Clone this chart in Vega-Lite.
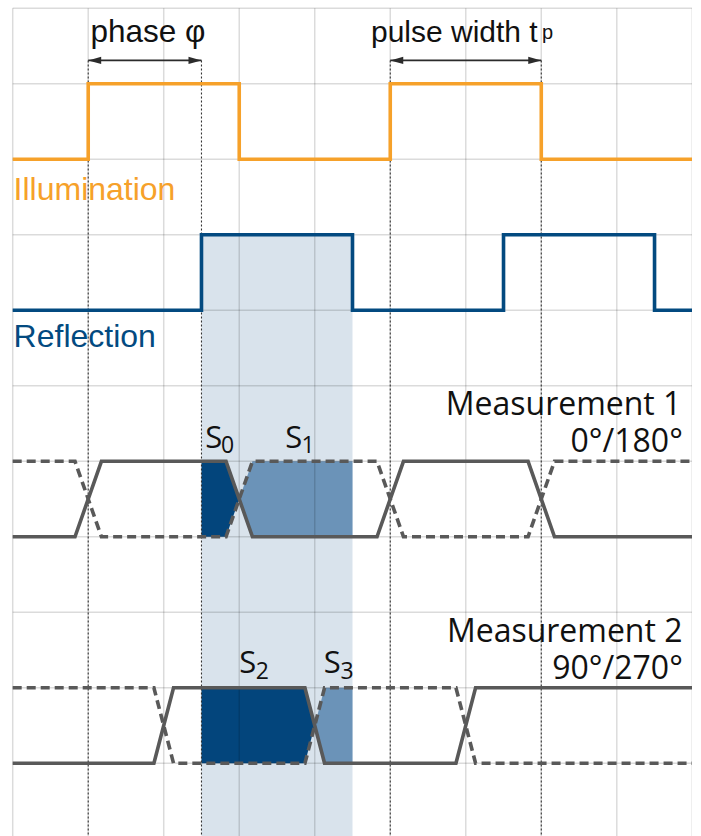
{
  "$schema": "https://vega.github.io/schema/vega-lite/v6.json",
  "width": 679.6,
  "height": 830.5,
  "autosize": {"type": "none"},
  "padding": {"left": 12.7, "top": 8.3, "right": 0, "bottom": 0},
  "background": "white",
  "config": {"view": {"stroke": null}, "axis": {"disable": true}, "legend": {"disable": true}},
  "datasets": {
    "shade": [{"x": 2.5, "x2": 4.5, "y": 3, "y2": 11}],
    "fills": [
      {"r": "S0", "tone": "dark", "x": 2.5, "y": 6, "y2": 7},
      {"r": "S0", "tone": "dark", "x": 2.825, "y": 6, "y2": 7},
      {"r": "S0", "tone": "dark", "x": 3.0, "y": 6.5, "y2": 6.5},
      {"r": "S1", "tone": "mid", "x": 3.0, "y": 6.5, "y2": 6.5},
      {"r": "S1", "tone": "mid", "x": 3.175, "y": 6, "y2": 7},
      {"r": "S1", "tone": "mid", "x": 4.5, "y": 6, "y2": 7},
      {"r": "S2", "tone": "dark", "x": 2.5, "y": 9, "y2": 10},
      {"r": "S2", "tone": "dark", "x": 3.87, "y": 9, "y2": 10},
      {"r": "S2", "tone": "dark", "x": 4.0, "y": 9.5, "y2": 9.5},
      {"r": "S3", "tone": "mid", "x": 4.0, "y": 9.5, "y2": 9.5},
      {"r": "S3", "tone": "mid", "x": 4.13, "y": 9, "y2": 10},
      {"r": "S3", "tone": "mid", "x": 4.5, "y": 9, "y2": 10}
    ],
    "gridV": [
      {"x": 0, "y": 0, "y2": 11}, {"x": 1, "y": 0, "y2": 11}, {"x": 2, "y": 0, "y2": 11},
      {"x": 3, "y": 0, "y2": 11}, {"x": 4, "y": 0, "y2": 11}, {"x": 5, "y": 0, "y2": 11},
      {"x": 6, "y": 0, "y2": 11}, {"x": 7, "y": 0, "y2": 11}, {"x": 8, "y": 0, "y2": 11},
      {"x": 9, "y": 0, "y2": 11}
    ],
    "gridH": [
      {"x": 0, "x2": 9, "y": 0}, {"x": 0, "x2": 9, "y": 1}, {"x": 0, "x2": 9, "y": 2},
      {"x": 0, "x2": 9, "y": 3}, {"x": 0, "x2": 9, "y": 4}, {"x": 0, "x2": 9, "y": 5},
      {"x": 0, "x2": 9, "y": 6}, {"x": 0, "x2": 9, "y": 7}, {"x": 0, "x2": 9, "y": 8},
      {"x": 0, "x2": 9, "y": 9}, {"x": 0, "x2": 9, "y": 10}
    ],
    "dots": [
      {"x": 1, "y": 0.69, "y2": 11}, {"x": 2.5, "y": 0.69, "y2": 11},
      {"x": 5, "y": 0.69, "y2": 11}, {"x": 7, "y": 0.69, "y2": 11}
    ],
    "arrows": [{"x": 1, "x2": 2.5, "y": 0.69}, {"x": 5, "x2": 7, "y": 0.69}],
    "heads": [
      {"side": "L", "x": 1, "y": 0.69}, {"side": "R", "x": 2.5, "y": 0.69},
      {"side": "L", "x": 5, "y": 0.69}, {"side": "R", "x": 7, "y": 0.69}
    ],
    "waves": [
      {"s": "illum", "i": 0, "x": 0, "y": 2}, {"s": "illum", "i": 1, "x": 1, "y": 2},
      {"s": "illum", "i": 2, "x": 1, "y": 1}, {"s": "illum", "i": 3, "x": 3, "y": 1},
      {"s": "illum", "i": 4, "x": 3, "y": 2}, {"s": "illum", "i": 5, "x": 5, "y": 2},
      {"s": "illum", "i": 6, "x": 5, "y": 1}, {"s": "illum", "i": 7, "x": 7, "y": 1},
      {"s": "illum", "i": 8, "x": 7, "y": 2}, {"s": "illum", "i": 9, "x": 9, "y": 2},
      {"s": "refl", "i": 0, "x": 0, "y": 4}, {"s": "refl", "i": 1, "x": 2.5, "y": 4},
      {"s": "refl", "i": 2, "x": 2.5, "y": 3}, {"s": "refl", "i": 3, "x": 4.5, "y": 3},
      {"s": "refl", "i": 4, "x": 4.5, "y": 4}, {"s": "refl", "i": 5, "x": 6.5, "y": 4},
      {"s": "refl", "i": 6, "x": 6.5, "y": 3}, {"s": "refl", "i": 7, "x": 8.5, "y": 3},
      {"s": "refl", "i": 8, "x": 8.5, "y": 4}, {"s": "refl", "i": 9, "x": 9, "y": 4},
      {"s": "m1s", "i": 0, "x": 0, "y": 7}, {"s": "m1s", "i": 1, "x": 0.825, "y": 7},
      {"s": "m1s", "i": 2, "x": 1.175, "y": 6}, {"s": "m1s", "i": 3, "x": 2.825, "y": 6},
      {"s": "m1s", "i": 4, "x": 3.175, "y": 7}, {"s": "m1s", "i": 5, "x": 4.825, "y": 7},
      {"s": "m1s", "i": 6, "x": 5.175, "y": 6}, {"s": "m1s", "i": 7, "x": 6.825, "y": 6},
      {"s": "m1s", "i": 8, "x": 7.175, "y": 7}, {"s": "m1s", "i": 9, "x": 9, "y": 7},
      {"s": "m1d", "i": 0, "x": 0, "y": 6}, {"s": "m1d", "i": 1, "x": 0.825, "y": 6},
      {"s": "m1d", "i": 2, "x": 1.175, "y": 7}, {"s": "m1d", "i": 3, "x": 2.825, "y": 7},
      {"s": "m1d", "i": 4, "x": 3.175, "y": 6}, {"s": "m1d", "i": 5, "x": 4.825, "y": 6},
      {"s": "m1d", "i": 6, "x": 5.175, "y": 7}, {"s": "m1d", "i": 7, "x": 6.825, "y": 7},
      {"s": "m1d", "i": 8, "x": 7.175, "y": 6}, {"s": "m1d", "i": 9, "x": 9, "y": 6},
      {"s": "m2s", "i": 0, "x": 0, "y": 10}, {"s": "m2s", "i": 1, "x": 1.87, "y": 10},
      {"s": "m2s", "i": 2, "x": 2.13, "y": 9}, {"s": "m2s", "i": 3, "x": 3.87, "y": 9},
      {"s": "m2s", "i": 4, "x": 4.13, "y": 10}, {"s": "m2s", "i": 5, "x": 5.87, "y": 10},
      {"s": "m2s", "i": 6, "x": 6.13, "y": 9}, {"s": "m2s", "i": 7, "x": 9, "y": 9},
      {"s": "m2d", "i": 0, "x": 0, "y": 9}, {"s": "m2d", "i": 1, "x": 1.87, "y": 9},
      {"s": "m2d", "i": 2, "x": 2.13, "y": 10}, {"s": "m2d", "i": 3, "x": 3.87, "y": 10},
      {"s": "m2d", "i": 4, "x": 4.13, "y": 9}, {"s": "m2d", "i": 5, "x": 5.87, "y": 9},
      {"s": "m2d", "i": 6, "x": 6.13, "y": 10}, {"s": "m2d", "i": 7, "x": 9, "y": 10}
    ],
    "labels": [
      {"k": "top1", "t": "phase φ", "x": 1.03, "y": 0.442},
      {"k": "top2", "t": "pulse width t", "x": 4.745, "y": 0.442},
      {"k": "topsub", "t": "p", "x": 7.01, "y": 0.405},
      {"k": "illum", "t": "Illumination", "x": 0.012, "y": 2.539},
      {"k": "refl", "t": "Reflection", "x": 0.012, "y": 4.486},
      {"k": "meas", "t": "Measurement 1", "x": 8.855, "y": 5.387},
      {"k": "meas", "t": "0°/180°", "x": 8.875, "y": 5.873},
      {"k": "meas", "t": "Measurement 2", "x": 8.87, "y": 8.389},
      {"k": "meas", "t": "90°/270°", "x": 8.875, "y": 8.887},
      {"k": "S", "t": "S", "x": 2.55, "y": 5.828},
      {"k": "S", "t": "S", "x": 3.61, "y": 5.828},
      {"k": "S", "t": "S", "x": 3.0, "y": 8.808},
      {"k": "S", "t": "S", "x": 4.12, "y": 8.808},
      {"k": "Ssub", "t": "0", "x": 2.76, "y": 5.894},
      {"k": "Ssub", "t": "1", "x": 3.825, "y": 5.894},
      {"k": "Ssub", "t": "2", "x": 3.22, "y": 8.887},
      {"k": "Ssub", "t": "3", "x": 4.34, "y": 8.887}
    ]
  },
  "encoding": {
    "x": {"field": "x", "type": "quantitative", "scale": {"domain": [0, 9], "nice": false, "zero": false}},
    "y": {"field": "y", "type": "quantitative", "scale": {"domain": [0, 11], "nice": false, "zero": false, "reverse": true}}
  },
  "layer": [
    {"data": {"name": "shade"}, "mark": {"type": "rect", "color": "#D9E3EC"},
     "encoding": {"x2": {"field": "x2"}, "y2": {"field": "y2"}}},
    {"data": {"name": "fills"}, "transform": [{"filter": "datum.tone == 'dark'"}],
     "mark": {"type": "area", "color": "#03457C", "opacity": 1, "orient": "vertical"},
     "encoding": {
       "y": {"field": "y", "type": "quantitative", "stack": null},
       "y2": {"field": "y2"},
       "detail": {"field": "r"}}},
    {"data": {"name": "fills"}, "transform": [{"filter": "datum.tone == 'mid'"}],
     "mark": {"type": "area", "color": "#6B93B8", "opacity": 1, "orient": "vertical"},
     "encoding": {
       "y": {"field": "y", "type": "quantitative", "stack": null},
       "y2": {"field": "y2"},
       "detail": {"field": "r"}}},
    {"data": {"name": "gridV"}, "mark": {"type": "rule", "color": "#000000", "opacity": 0.14, "strokeWidth": 1.5},
     "encoding": {"y2": {"field": "y2"}}},
    {"data": {"name": "gridH"}, "mark": {"type": "rule", "color": "#000000", "opacity": 0.14, "strokeWidth": 1.5},
     "encoding": {"x2": {"field": "x2"}}},
    {"data": {"name": "dots"}, "mark": {"type": "rule", "color": "#333333", "strokeWidth": 1.1, "strokeDash": [2, 2]},
     "encoding": {"y2": {"field": "y2"}}},
    {"data": {"name": "arrows"}, "mark": {"type": "rule", "color": "#2b2b2b", "strokeWidth": 1.8},
     "encoding": {"x2": {"field": "x2"}}},
    {"data": {"name": "heads"}, "transform": [{"filter": "datum.side == 'L'"}],
     "mark": {"type": "point", "filled": true, "opacity": 1, "color": "#2b2b2b", "size": 169, "shape": "M0,0L2,-0.55L2,0.55Z"},
     "encoding": {}},
    {"data": {"name": "heads"}, "transform": [{"filter": "datum.side == 'R'"}],
     "mark": {"type": "point", "filled": true, "opacity": 1, "color": "#2b2b2b", "size": 169, "shape": "M0,0L-2,-0.55L-2,0.55Z"},
     "encoding": {}},
    {"data": {"name": "waves"}, "transform": [{"filter": "datum.s == 'illum'"}],
     "mark": {"type": "line", "color": "#F6A12A", "strokeWidth": 3.6, "strokeJoin": "miter"},
     "encoding": {"order": {"field": "i", "type": "quantitative"}}},
    {"data": {"name": "waves"}, "transform": [{"filter": "datum.s == 'refl'"}],
     "mark": {"type": "line", "color": "#034A80", "strokeWidth": 3.6, "strokeJoin": "miter"},
     "encoding": {"order": {"field": "i", "type": "quantitative"}}},
    {"data": {"name": "waves"}, "transform": [{"filter": "datum.s == 'm1d' || datum.s == 'm2d'"}],
     "mark": {"type": "line", "color": "#595959", "strokeWidth": 3.6, "strokeJoin": "miter", "strokeDash": [9, 5]},
     "encoding": {"detail": {"field": "s"}, "order": {"field": "i", "type": "quantitative"}}},
    {"data": {"name": "waves"}, "transform": [{"filter": "datum.s == 'm1s' || datum.s == 'm2s'"}],
     "mark": {"type": "line", "color": "#595959", "strokeWidth": 3.6, "strokeJoin": "miter"},
     "encoding": {"detail": {"field": "s"}, "order": {"field": "i", "type": "quantitative"}}},
    {"data": {"name": "labels"}, "transform": [{"filter": "datum.k == 'top1'"}],
     "mark": {"type": "text", "font": "Liberation Sans", "fontSize": 31.5, "color": "#111111", "align": "left", "baseline": "alphabetic"},
     "encoding": {"text": {"field": "t"}}},
    {"data": {"name": "labels"}, "transform": [{"filter": "datum.k == 'top2'"}],
     "mark": {"type": "text", "font": "Liberation Sans", "fontSize": 30, "color": "#111111", "align": "left", "baseline": "alphabetic"},
     "encoding": {"text": {"field": "t"}}},
    {"data": {"name": "labels"}, "transform": [{"filter": "datum.k == 'topsub'"}],
     "mark": {"type": "text", "font": "Liberation Sans", "fontSize": 20, "color": "#111111", "align": "left", "baseline": "alphabetic"},
     "encoding": {"text": {"field": "t"}}},
    {"data": {"name": "labels"}, "transform": [{"filter": "datum.k == 'illum'"}],
     "mark": {"type": "text", "font": "Liberation Sans", "fontSize": 32, "color": "#F6A12A", "align": "left", "baseline": "alphabetic"},
     "encoding": {"text": {"field": "t"}}},
    {"data": {"name": "labels"}, "transform": [{"filter": "datum.k == 'refl'"}],
     "mark": {"type": "text", "font": "Liberation Sans", "fontSize": 32, "color": "#034A80", "align": "left", "baseline": "alphabetic"},
     "encoding": {"text": {"field": "t"}}},
    {"data": {"name": "labels"}, "transform": [{"filter": "datum.k == 'meas'"}],
     "mark": {"type": "text", "font": "Open Sans", "fontSize": 32, "color": "#111111", "align": "right", "baseline": "alphabetic"},
     "encoding": {"text": {"field": "t"}}},
    {"data": {"name": "labels"}, "transform": [{"filter": "datum.k == 'S'"}],
     "mark": {"type": "text", "font": "Open Sans", "fontSize": 31, "color": "#111111", "align": "left", "baseline": "alphabetic"},
     "encoding": {"text": {"field": "t"}}},
    {"data": {"name": "labels"}, "transform": [{"filter": "datum.k == 'Ssub'"}],
     "mark": {"type": "text", "font": "Open Sans", "fontSize": 23, "color": "#111111", "align": "left", "baseline": "alphabetic"},
     "encoding": {"text": {"field": "t"}}}
  ]
}
